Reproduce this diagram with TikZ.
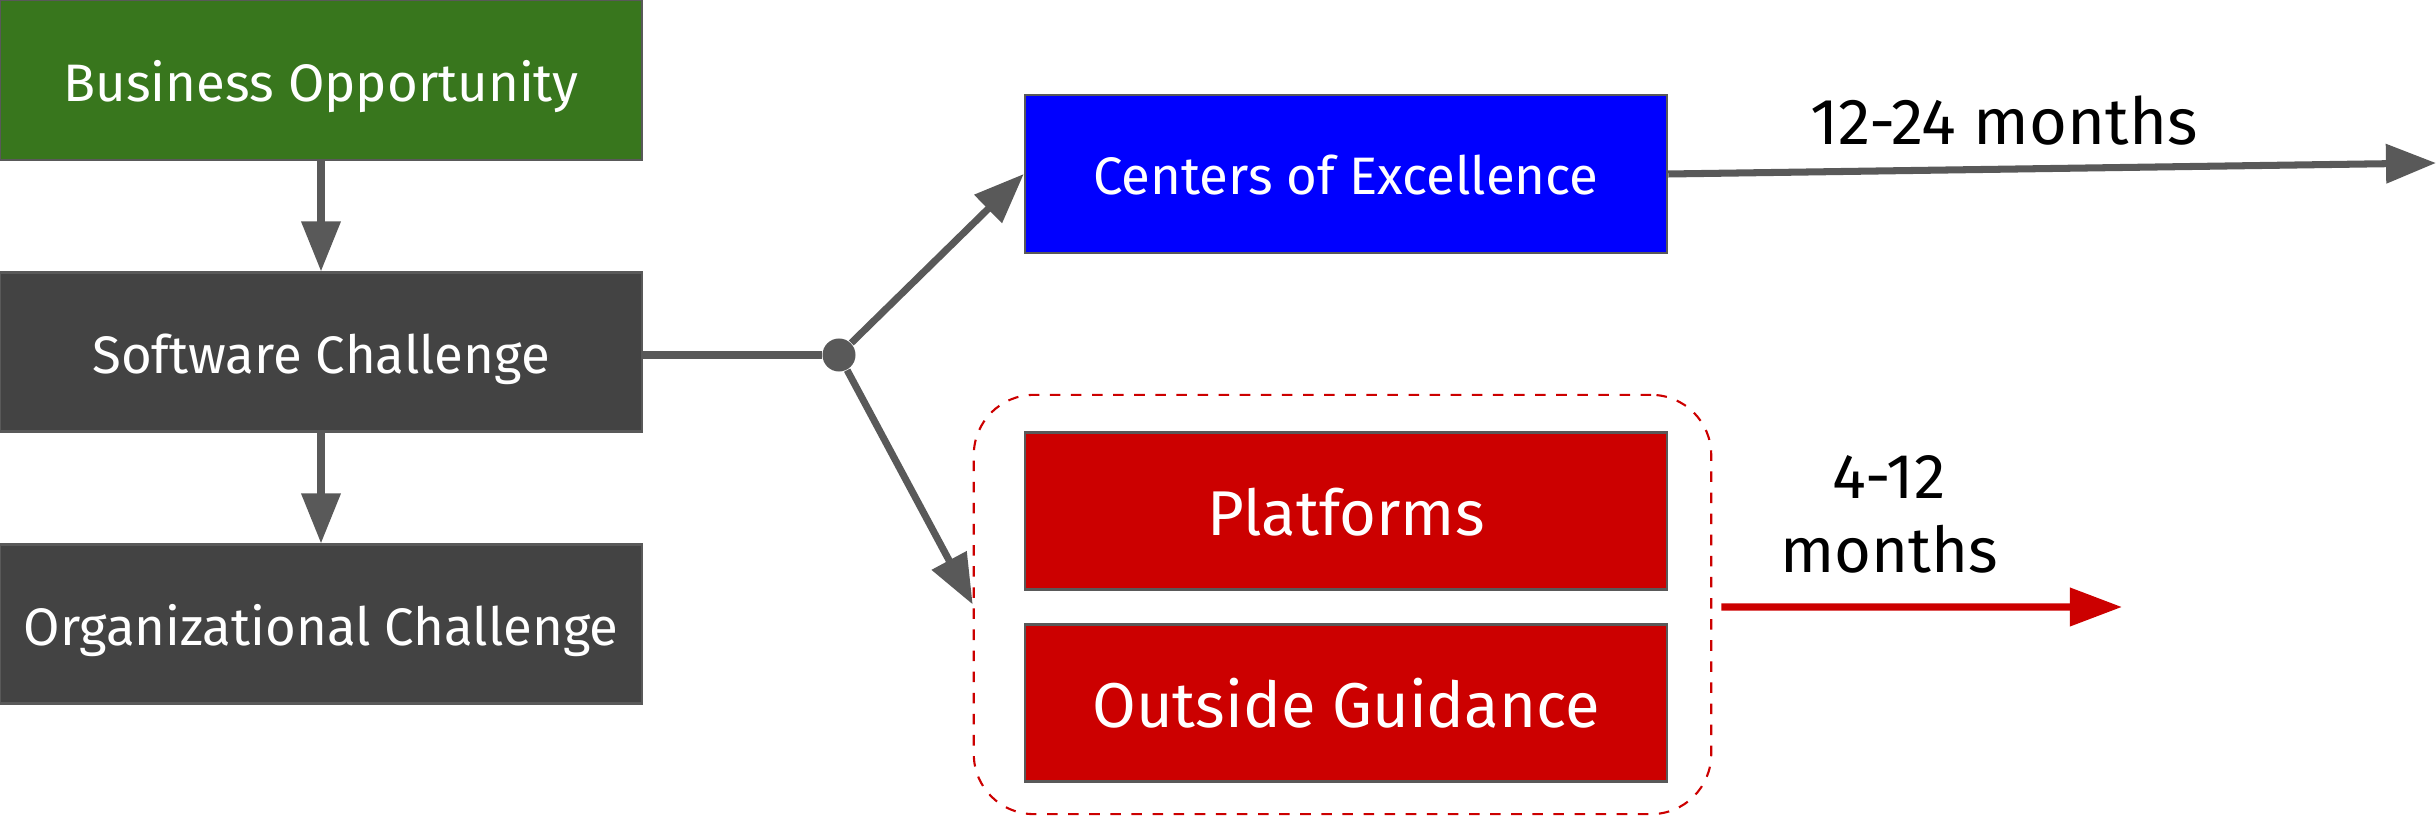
\documentclass[tikz,border=0pt]{standalone}
\usepackage{fontspec}
\setmainfont{Fira Sans}
\usetikzlibrary{arrows.meta}
\definecolor{bizgreen}{HTML}{38761D}
\definecolor{darkbox}{HTML}{434343}
\definecolor{coeblue}{HTML}{0000FF}
\definecolor{rhred}{HTML}{CC0000}
\definecolor{linegray}{HTML}{595959}

\begin{document}
\begin{tikzpicture}[x=0.01cm,y=-0.01cm,
    box/.style={draw=linegray,line width=0.6pt,text=white,minimum width=6.42cm,
      minimum height=1.59cm,inner sep=0pt,text height=12pt,text depth=0pt,
      font=\fontsize{15}{18}\selectfont},
    bigbox/.style={box,fill=rhred,minimum height=1.57cm,text height=13.7pt,
      font=\fontsize{18}{21}\selectfont},
    link/.style={draw=linegray,line width=2pt},
    tip/.style={-{Triangle[length=0.5cm,width=0.38cm]}},
    junction/.style={circle,fill=linegray,minimum size=0.33cm,inner sep=0pt}]
  \useasboundingbox (0,0) rectangle (2436,822);

  \node[box,fill=bizgreen,minimum height=1.6cm] (biz) at (321,80) {Business Opportunity};
  \node[box,fill=darkbox] (soft) at (321,352) {Software Challenge};
  \node[box,fill=darkbox] (org) at (321,624) {Organizational Challenge};
  \node[junction] (split) at (839,355) {};

  \node[box,fill=coeblue,minimum height=1.58cm,text height=11.4pt] (coe) at (1346,174) {Centers of Excellence};
  \node[bigbox] (plat) at (1346,511) {Platforms};
  \node[bigbox] (guide) at (1346,703) {Outside Guidance};
  \node[draw=rhred,dashed,line width=0.6pt,rounded corners=0.6cm,minimum width=7.37cm,
    minimum height=4.19cm] (fast) at (1342.5,604.5) {};

  \draw[link,tip] (biz) -- (soft);
  \draw[link,tip] (soft) -- (org);
  \draw[link] (soft.east |- split) -- (split);
  \draw[link,tip] (split) -- (coe.west);
  \draw[link,tip] (split) -- (fast.west);

  \coordinate (slowend) at (2436,163);
  \coordinate (fastend) at (2122,607);
  \draw[link,tip] (coe.east) -- (slowend);
  \draw[draw=rhred,line width=2pt,-{Triangle[length=0.52cm,width=0.37cm]}]
    ([xshift=0.09cm,yshift=-0.025cm]fast.east) -- (fastend);

  \node[font=\fontsize{18.5}{21}\selectfont] (slowlbl) at (2004,121) {12-24 months};
  \node[font=\fontsize{18}{21}\selectfont,align=center] (fastlbl) at (1889,514) {4-12\\months};
\end{tikzpicture}
\end{document}
